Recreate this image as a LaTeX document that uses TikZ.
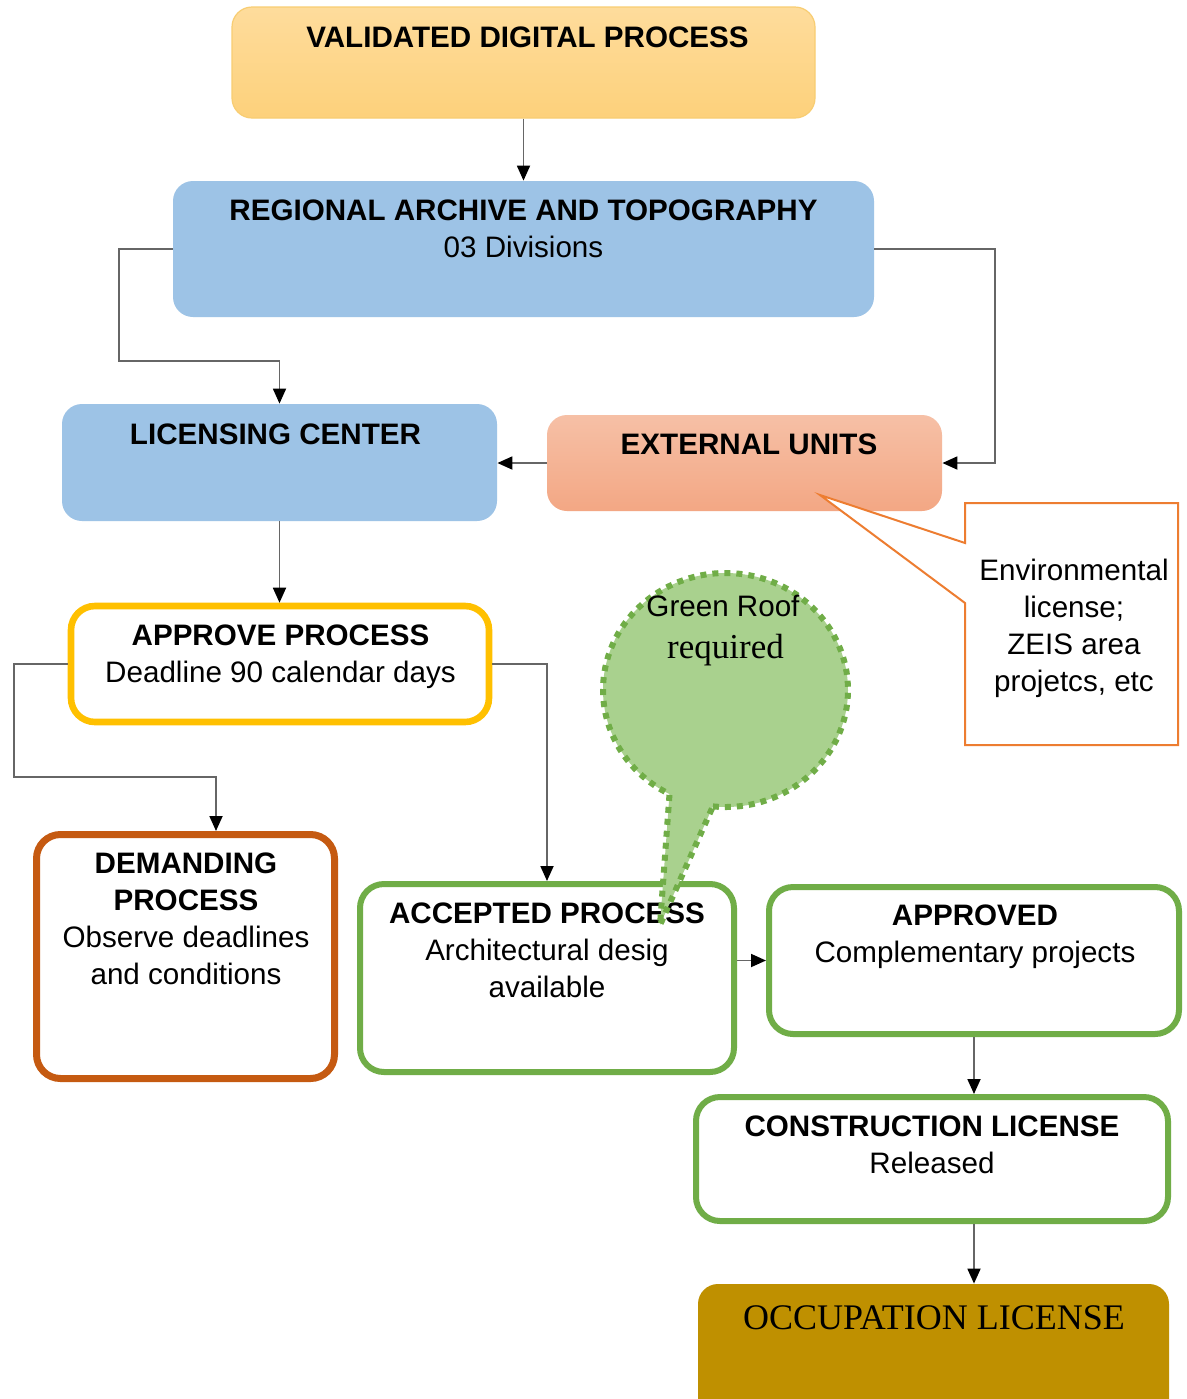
\documentclass[tikz,border=0pt]{standalone}
\usepackage{fontspec}
\setmainfont{Liberation Sans}
\newfontfamily\tnr{Liberation Serif}
\usetikzlibrary{arrows.meta,calc}
\definecolor{vdpTop}{HTML}{FEDC9C}
\definecolor{vdpBot}{HTML}{FDD17B}
\definecolor{vdpEdge}{HTML}{F8CD72}
\definecolor{blueF}{HTML}{9DC3E6}
\definecolor{extTop}{HTML}{F6C0A6}
\definecolor{extBot}{HTML}{F3A784}
\definecolor{calloutC}{HTML}{ED7D31}
\definecolor{yellowC}{HTML}{FFC000}
\definecolor{demC}{HTML}{C55A11}
\definecolor{greenC}{HTML}{70AD47}
\definecolor{bubbleF}{HTML}{A9D18E}
\definecolor{occF}{HTML}{BF9000}
\begin{document}
\begin{tikzpicture}[x=0.5pt,y=0.5pt,
  boxfill/.style={rectangle, rounded corners=10pt},
  boxframe/.style={rectangle, rounded corners=12pt, fill=white, line width=3pt},
  txtsty/.style={anchor=north, align=center, inner sep=0pt, font=\fontsize{14.8pt}{18.5pt}\selectfont},
  arrowline/.style={draw=black!60, line width=0.9pt, -{Triangle[length=7.5pt,width=6.5pt,color=black]}},
]
\clip (0,0) rectangle (1187,-1399);
\fill[white] (0,0) rectangle (1187,-1399);

% boxes
\node[boxfill, top color=vdpTop, bottom color=vdpBot, draw=vdpEdge, line width=0.6pt, minimum width=291.5pt, minimum height=55.5pt] (vdp) at (523.5,-62.5) {};
\node[boxfill, fill=blueF, minimum width=350.5pt, minimum height=68pt] (rat) at (523.5,-249) {};
\node[boxfill, fill=blueF, minimum width=217.5pt, minimum height=58.5pt] (lic) at (279.5,-462.5) {};
\node[boxfill, top color=extTop, bottom color=extBot, minimum width=197.5pt, minimum height=48pt] (ext) at (744.5,-463) {};
\node[boxframe, draw=yellowC, line width=3.3pt, minimum width=209pt, minimum height=58pt] (app) at (280,-664) {};
\node[boxframe, draw=demC, line width=3.5pt, minimum width=149pt, minimum height=122pt] (dem) at (185.5,-956.5) {};
\node[boxframe, draw=greenC, minimum width=187pt, minimum height=94pt] (acc) at (547,-978) {};
\node[boxframe, draw=greenC, minimum width=205pt, minimum height=73.5pt] (apd) at (974,-960.5) {};
\node[boxframe, draw=greenC, minimum width=236pt, minimum height=62pt] (con) at (932,-1159) {};
\node[boxfill, fill=occF, minimum width=235.5pt, minimum height=68pt] (occ) at (933.5,-1352) {};

% texts
\node[txtsty] (vdpt) at (527.5,-26) {\textbf{VALIDATED DIGITAL PROCESS}};
\node[txtsty] (ratt) at (523.5,-199.5) {\textbf{REGIONAL ARCHIVE AND TOPOGRAPHY}\\03 Divisions};
\node[txtsty] (lict) at (275.5,-423.5) {\textbf{LICENSING CENTER}};
\node[txtsty] (extt) at (749,-433.5) {\textbf{EXTERNAL UNITS}};
\node[txtsty] (appt) at (280.5,-624.5) {\textbf{APPROVE PROCESS}\\Deadline 90 calendar days};
\node[txtsty] (demt) at (186,-852) {\textbf{DEMANDING}\\\textbf{PROCESS}\\Observe deadlines\\and conditions};
\node[txtsty] (acct) at (547,-902.5) {\textbf{ACCEPTED PROCESS}\\Architectural desig\\available};
\node[txtsty] (apdt) at (975,-904.5) {\textbf{APPROVED}\\Complementary projects};
\node[txtsty] (cont) at (932,-1115.5) {\textbf{CONSTRUCTION LICENSE}\\Released};
\node[txtsty, font=\tnr\fontsize{18pt}{22pt}\selectfont] (occt) at (934,-1305) {OCCUPATION LICENSE};

% connectors
\draw[arrowline] (vdp.south) -- (rat.north);
\draw[arrowline] (rat.west) -| (119,-361) -| (lic.north);
\draw[arrowline] (rat.east) -| (995,-463) -- (ext.east);
\draw[arrowline] (ext.west) -- (lic.east |- ext.west);
\draw[arrowline] (lic.south) -- (lic.south |- app.north);
\draw[arrowline] (app.west) -| (14,-777) -| ([xshift=15.25pt]dem.north);
\draw[arrowline] (app.east) -| (acc.north);
\draw[arrowline] (apd.west -| acc.east) -- (apd.west);
\draw[arrowline] (apd.south) -- (apd.south |- con.north);
\draw[arrowline] (apd.south |- con.south) -- (apd.south |- occ.north);

% callout
\path[draw=calloutC, line width=1pt, fill=white, line join=miter] (965,-503) -- (1178,-503) -- (1178,-745) -- (965,-745) -- (965,-603) -- (820,-495) -- (965,-543) -- cycle;
\node[txtsty] (callt) at (1074,-559) {Environmental\\license;\\ZEIS area\\projetcs, etc};

% bubble
\coordinate (bc) at (725.5,-690);
\path[fill=bubbleF, draw=greenC, line width=3pt, dash pattern=on 3pt off 3pt]
  ($(bc)+(264.1:61.25pt and 58.5pt)$) arc[start angle=264.1, end angle=602.8, x radius=61.25pt, y radius=58.5pt] -- (660,-925) -- cycle;
\node[txtsty] (bubt1) at (723,-595) {Green Roof};
\node[anchor=base, inner sep=0pt, font=\tnr\fontsize{17.5pt}{21pt}\selectfont] (bubt2) at (725.5,-658) {required};
\end{tikzpicture}
\end{document}
